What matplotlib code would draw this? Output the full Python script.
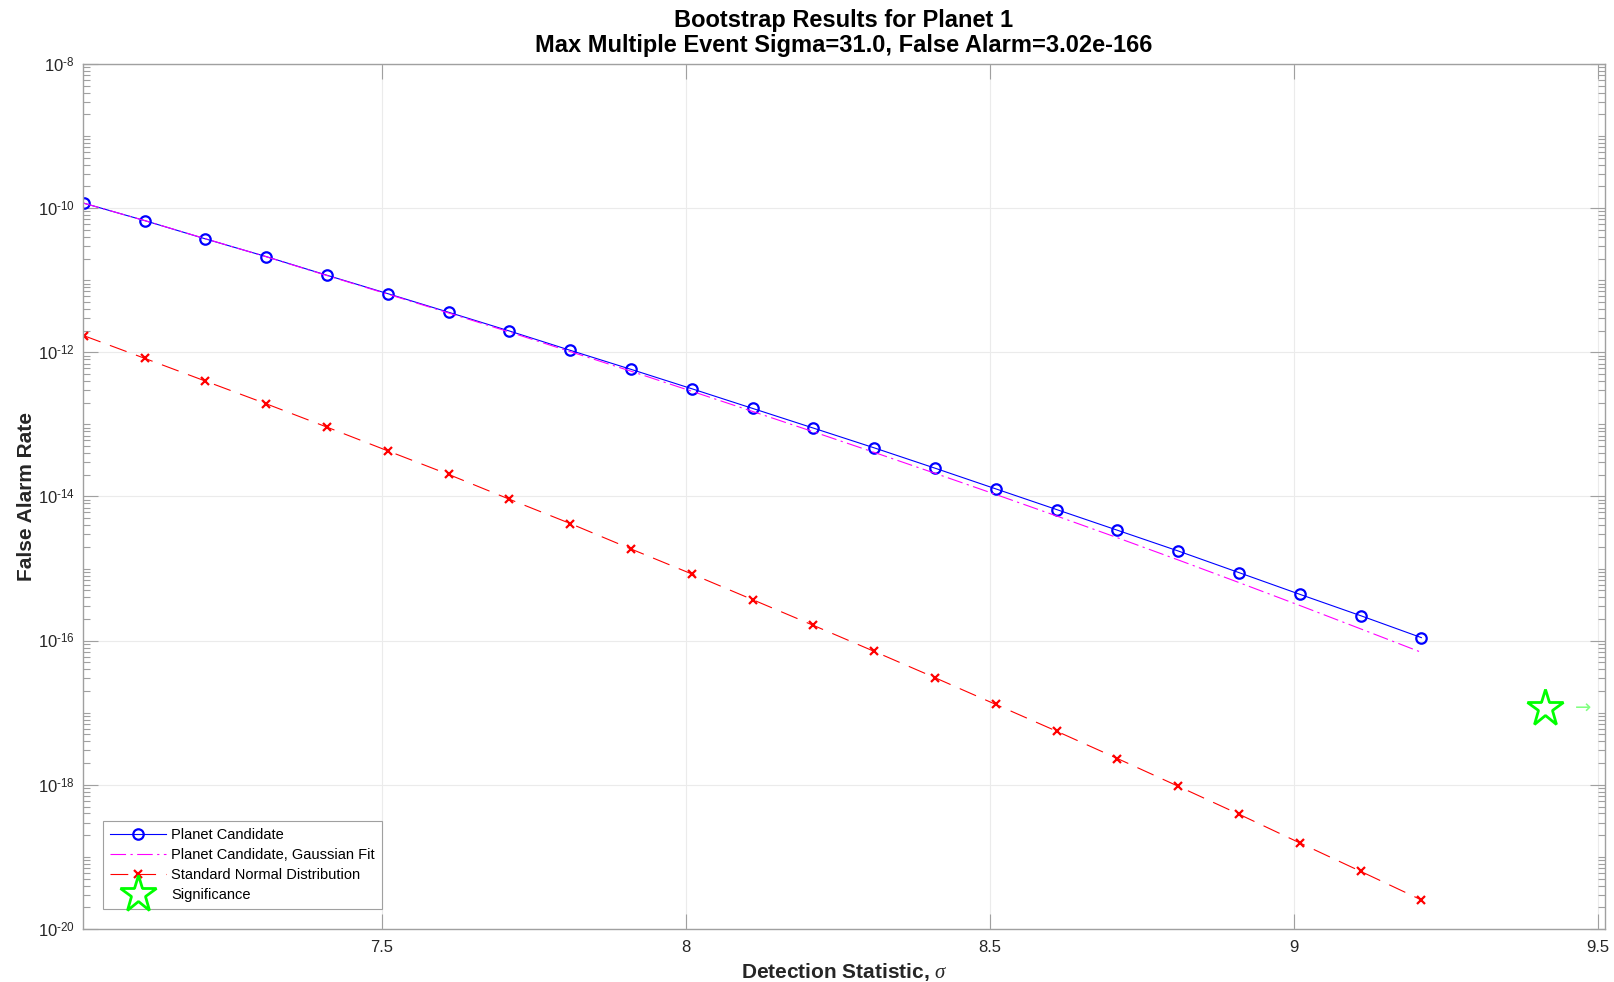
import matplotlib.pyplot as plt
import numpy as np
from matplotlib.ticker import FixedLocator, LogLocator, NullFormatter

plt.rcParams['font.family'] = ['Liberation Sans', 'DejaVu Sans']
plt.rcParams['mathtext.fontset'] = 'custom'
plt.rcParams['mathtext.rm'] = 'Liberation Sans'
plt.rcParams['mathtext.it'] = 'Liberation Serif:italic'

# detection statistic (sigma) grid
sigma = [7.01, 7.11, 7.21, 7.31, 7.41, 7.51, 7.61, 7.71, 7.81, 7.91, 8.01, 8.11,
         8.21, 8.31, 8.41, 8.51, 8.61, 8.71, 8.81, 8.91, 9.01, 9.11, 9.21]

# log10 of false alarm rate
log_cand = [-9.931, -10.172, -10.426, -10.672, -10.931, -11.186, -11.444, -11.704,
            -11.972, -12.236, -12.505, -12.778, -13.051, -13.325, -13.607, -13.894,
            -14.181, -14.468, -14.756, -15.056, -15.357, -15.653, -15.958]
log_fit = [-9.931, -10.172, -10.424, -10.674, -10.935, -11.193, -11.454, -11.718,
           -11.990, -12.262, -12.540, -12.820, -13.102, -13.388, -13.678, -13.972,
           -14.270, -14.572, -14.880, -15.194, -15.512, -15.836, -16.162]
log_norm = [-11.769, -12.083, -12.399, -12.714, -13.038, -13.367, -13.694, -14.038,
            -14.375, -14.728, -15.075, -15.431, -15.788, -16.149, -16.514, -16.885,
            -17.256, -17.635, -18.020, -18.408, -18.806, -19.200, -19.597]

sig_x = 9.413
sig_y = 1.16e-17

cand = 10.0 ** np.array(log_cand)
fit = 10.0 ** np.array(log_fit)
norm = 10.0 ** np.array(log_norm)

fig = plt.figure(figsize=(16.15, 9.82), dpi=100)
ax = fig.add_axes([0.0514, 0.054, 0.9424, 0.8808])

ax.plot(sigma, cand, '-o', color='b', lw=0.8, ms=7.5, mew=1.6, mfc='none',
        label='Planet Candidate')
ax.plot(sigma, fit, color='#ff00ff', lw=0.8, dashes=(14, 4, 2, 4),
        label='Planet Candidate, Gaussian Fit')
ax.plot(sigma, norm, color='r', lw=0.8, dashes=(16, 9), marker='x', ms=6,
        mew=1.6, label='Standard Normal Distribution')
ax.plot([sig_x], [sig_y], linestyle='none', marker='*', ms=28, mew=2,
        mfc='none', mec='#00ff00', label='Significance')
ax.text(9.462, sig_y, '\u2192', color='#80ff80', fontsize=14, va='center',
        ha='left', family=['DejaVu Sans'])

ax.set_yscale('log')
ax.set_xlim(7.0086, 9.512)
ax.set_ylim(1e-20, 1e-8)

ax.xaxis.set_major_locator(FixedLocator([7.5, 8, 8.5, 9, 9.5]))
ax.set_xticklabels(['7.5', '8', '8.5', '9', '9.5'])
exps = [-20, -18, -16, -14, -12, -10, -8]
ax.yaxis.set_major_locator(FixedLocator([10.0 ** e for e in exps]))
ax.set_yticklabels(['$10^{\u2010%d}$' % -e for e in exps])
ax.yaxis.set_minor_locator(LogLocator(base=10, subs=np.arange(1, 10), numticks=50))
ax.yaxis.set_minor_formatter(NullFormatter())

ax.tick_params(which='both', direction='in', top=True, right=True,
               color='#a0a0a0', labelcolor='#262626', labelsize=12)
ax.tick_params(which='major', length=11, width=0.8)
ax.tick_params(which='minor', length=5, width=0.8)
ax.tick_params(axis='x', pad=8)
ax.tick_params(axis='y', pad=6)
for s in ax.spines.values():
    s.set_color('#a0a0a0')
    s.set_linewidth(1.0)

ax.grid(True, which='major', color='#ebebeb', lw=0.8)
ax.set_axisbelow(True)

ax.set_xlabel('Detection Statistic, $\\sigma$', fontsize=15, fontweight='bold',
              color='#262626', labelpad=4)
ax.set_ylabel('False Alarm Rate', fontsize=15, fontweight='bold',
              color='#262626', labelpad=1)
ax.set_title('Bootstrap Results for Planet 1\nMax Multiple Event Sigma=31.0, False Alarm=3.02e-166',
             fontsize=17, fontweight='bold', linespacing=1.1, pad=9)

leg = ax.legend(loc='lower left', bbox_to_anchor=(0.0131, 0.0231), borderaxespad=0,
                fontsize=10.5, fancybox=False, edgecolor='#a0a0a0', framealpha=1,
                handlelength=3.8, handletextpad=0.4, labelspacing=0.4,
                borderpad=0.5)
leg.get_frame().set_linewidth(0.8)

fig.savefig('out.png', dpi=100)
